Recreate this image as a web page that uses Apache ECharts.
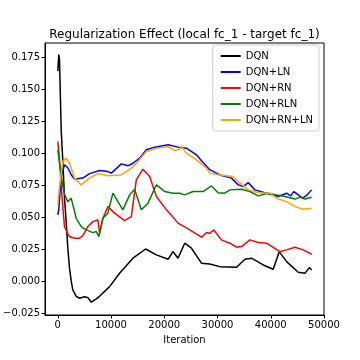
<!DOCTYPE html>
<html>
<head>
<meta charset="utf-8">
<script src="https://cdn.jsdelivr.net/npm/echarts@6/dist/echarts.min.js"></script>
<style>
	html, body { margin: 0; padding: 0; background: #fff; }
	#chart { width: 360px; height: 360px; }
</style>
</head>
<body>
<div id="chart"></div>
<script>
var seriesNames = ['DQN', 'DQN+LN', 'DQN+RN', 'DQN+RLN', 'DQN+RN+LN'];
var seriesColors = ['#000000', '#0000ff', '#ff0000', '#008000', '#ffa500'];
var xTicks = [0, 10000, 20000, 30000, 40000, 50000];
var yTicks = [-0.025, 0, 0.025, 0.05, 0.075, 0.1, 0.125, 0.15, 0.175];

// [iteration, value]
var dqn = [[0, 0.164], [190, 0.177], [320, 0.173], [640, 0.118], [940, 0.094], [1260, 0.065],
	[1580, 0.046], [1880, 0.026], [2200, 0.01], [2520, 0.0], [2820, -0.007], [3460, -0.012],
	[4080, -0.0135], [5030, -0.0123], [5650, -0.013], [6290, -0.0166], [7230, -0.014],
	[7850, -0.012], [9730, -0.0044], [11610, 0.006], [14110, 0.0178], [16500, 0.025],
	[18520, 0.0204], [20730, 0.017], [21640, 0.023], [22580, 0.0178], [23840, 0.0295],
	[25110, 0.0256], [26990, 0.0139], [28540, 0.0133], [30430, 0.0112], [33580, 0.0107],
	[35140, 0.017], [36400, 0.0178], [38580, 0.0125], [40460, 0.0092], [41590, 0.0229],
	[42980, 0.0151], [45160, 0.0068], [46430, 0.006], [47240, 0.0104], [47690, 0.0086]];
var dqnLn = [[0, 0.0517], [190, 0.056], [640, 0.0816], [1260, 0.0908], [1880, 0.0885],
	[2520, 0.083], [3140, 0.0796], [4700, 0.0804], [5970, 0.0839], [7850, 0.0863],
	[9410, 0.0855], [10050, 0.0843], [11290, 0.089], [11930, 0.0915], [13170, 0.090],
	[14110, 0.092], [15380, 0.096], [16640, 0.1025], [18200, 0.1046], [20730, 0.1064],
	[22580, 0.1046], [24160, 0.1038], [26050, 0.0986], [26990, 0.094], [28540, 0.087],
	[30430, 0.0829], [32630, 0.0804], [33880, 0.0751], [34820, 0.0738], [35760, 0.0769],
	[37020, 0.0712], [39220, 0.0686], [41400, 0.066], [42980, 0.0686], [43730, 0.0665],
	[44360, 0.0699], [45160, 0.0673], [46000, 0.0647], [46860, 0.0673], [47690, 0.0712]];
var dqnRn = [[0, 0.109], [320, 0.095], [640, 0.075], [940, 0.058], [1260, 0.0425],
	[1880, 0.037], [2200, 0.0347], [3140, 0.0334], [4080, 0.0334], [4700, 0.0355],
	[5650, 0.0425], [6590, 0.0464], [7530, 0.0477], [7850, 0.0373], [8470, 0.049],
	[9410, 0.0581], [10670, 0.053], [12550, 0.0472], [13810, 0.0503], [14750, 0.079],
	[15990, 0.0874], [17260, 0.0816], [18520, 0.066], [20420, 0.0556], [21640, 0.0499],
	[22580, 0.0452], [23520, 0.043], [24790, 0.0399], [26990, 0.0342], [27930, 0.0378],
	[28540, 0.0373], [29300, 0.0399], [30750, 0.0321], [32310, 0.0295], [33580, 0.0264],
	[34510, 0.0269], [36080, 0.0321], [37640, 0.030], [39220, 0.0295], [41720, 0.0229],
	[42980, 0.0243], [44550, 0.0264], [46110, 0.0243], [47690, 0.0209]];
var dqnRln = [[0, 0.1025], [320, 0.092], [640, 0.083], [940, 0.0738], [1260, 0.068],
	[1880, 0.062], [2520, 0.0647], [3460, 0.049], [4400, 0.0425], [5340, 0.0399],
	[6590, 0.0378], [7230, 0.0386], [7720, 0.0347], [8470, 0.049], [9410, 0.053],
	[10350, 0.0686], [11290, 0.062], [12230, 0.0556], [13500, 0.0673], [14430, 0.0717],
	[15690, 0.0556], [16940, 0.0608], [18520, 0.0751], [20100, 0.0699], [21640, 0.0686],
	[22900, 0.0686], [23840, 0.0673], [25410, 0.0699], [27290, 0.0699], [28860, 0.0743],
	[30110, 0.069], [31370, 0.0686], [32310, 0.0712], [34510, 0.0717], [36080, 0.0699],
	[37640, 0.0665], [39520, 0.0686], [41100, 0.0673], [42660, 0.066], [44550, 0.064],
	[45480, 0.0655], [46430, 0.064], [47690, 0.0655]];
var dqnRnLn = [[0, 0.0595], [320, 0.0738], [940, 0.0933], [1580, 0.096], [2200, 0.092],
	[3140, 0.0804], [4400, 0.0751], [5970, 0.0804], [7530, 0.0839], [9410, 0.0822],
	[11930, 0.0829], [13810, 0.0882], [15050, 0.0933], [16640, 0.1012], [18520, 0.1038],
	[20730, 0.1051], [21960, 0.102], [22900, 0.103], [23210, 0.1056], [24160, 0.0999],
	[26050, 0.0947], [27930, 0.0882], [28540, 0.0843], [30430, 0.0829], [32940, 0.0816],
	[33880, 0.0777], [35760, 0.0712], [37640, 0.069], [39840, 0.0686], [41100, 0.0647],
	[42980, 0.062], [44550, 0.0581], [46110, 0.056], [47690, 0.0568]];

var allData = [dqn, dqnLn, dqnRn, dqnRln, dqnRnLn];

setChart('chart');

function setChart(_id) {
	var font = 'DejaVu Sans';
	var series = [];
	for(var i = 0; i < seriesNames.length; i++) {
		series.push({
			name: seriesNames[i],
			type: 'line',
			data: allData[i],
			showSymbol: false,
			symbol: 'none',
			lineStyle: { color: seriesColors[i], width: 1.5 },
			itemStyle: { color: seriesColors[i] }
		});
	}
	var chartOption = {
		animation: false,
		backgroundColor: '#fff',
		title: {
			text: 'Regularization Effect (local fc_1 - target fc_1)',
			left: 179.5,
			textAlign: 'center',
			top: 24,
			textStyle: { fontFamily: font, fontSize: 12, fontWeight: 'normal', color: '#000' }
		},
		legend: {
			orient: 'vertical',
			right: 41,
			top: 45,
			data: seriesNames,
			icon: 'rect',
			itemWidth: 20,
			itemHeight: 2,
			itemGap: 4,
			padding: [5, 6, 5, 8],
			borderColor: '#cccccc',
			borderWidth: 1,
			borderRadius: 3,
			backgroundColor: 'rgba(255,255,255,0.8)',
			textStyle: { fontFamily: font, fontSize: 10, color: '#000', lineHeight: 12 }
		},
		grid: {
			left: 45,
			right: 36,
			top: 43,
			bottom: 45,
			show: true,
			borderColor: '#000',
			borderWidth: 1
		},
		xAxis: {
			type: 'value',
			min: -2400,
			max: 50000,
			name: 'Iteration',
			nameLocation: 'middle',
			nameGap: 20,
			nameTextStyle: { fontFamily: font, fontSize: 10, color: '#000' },
			axisLine: { onZero: false, lineStyle: { color: '#000' } },
			axisTick: { show: true, customValues: xTicks, length: 3.5, lineStyle: { color: '#000' } },
			axisLabel: {
				customValues: xTicks,
				fontFamily: font,
				fontSize: 10,
				color: '#000',
				margin: 5,
				formatter: function(v) { return String(v); }
			},
			splitLine: { show: false }
		},
		yAxis: {
			type: 'value',
			min: -0.0266,
			max: 0.186,
			axisLine: { show: true, onZero: false, lineStyle: { color: '#000' } },
			axisTick: { show: true, customValues: yTicks, length: 3.5, lineStyle: { color: '#000' } },
			axisLabel: {
				customValues: yTicks,
				fontFamily: font,
				fontSize: 10,
				color: '#000',
				margin: 5,
				formatter: function(v) {
					var s = Math.abs(v).toFixed(3);
					return v < 0 ? '\u2212' + s : s;
				}
			},
			splitLine: { show: false }
		},
		series: series
	};
	var lineChart = echarts.init(document.getElementById(_id));
	lineChart.setOption(chartOption);
}
</script>
</body>
</html>
